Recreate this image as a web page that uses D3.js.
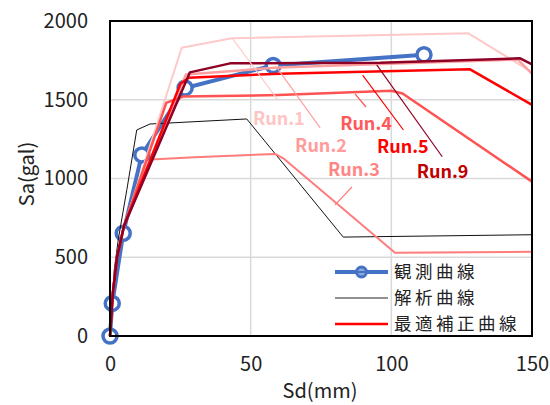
<!DOCTYPE html>
<html><head><meta charset="utf-8">
<script src="https://cdn.jsdelivr.net/npm/d3@7"></script>
<style>body{margin:0;background:#fff}</style>
</head><body>
<svg id="c" width="550" height="405"></svg>
<script>
// ---- data ----
const xTicks = [0, 50, 100, 150];
const yTicks = [0, 500, 1000, 1500, 2000];
const obsSd = [0, 0.8, 4.7, 11.3, 26.7, 58, 111.6];
const obsSa = [0, 207, 652, 1150, 1575, 1718, 1786];
const anaSd = [0, 1.5, 3, 6, 9.5, 14.2, 48.6, 82.9, 150];
const anaSa = [0, 420, 620, 930, 1308, 1346, 1378, 628, 643];
const run1Sd = [0, 1, 2.5, 5, 25.5, 43.3, 127.4, 150];
const run1Sa = [0, 270, 500, 700, 1830, 1890, 1922, 1675];
const run2Sd = [0, 1, 2.5, 5, 27, 60, 145, 150];
const run2Sa = [0, 270, 500, 700, 1660, 1705, 1755, 1665];
const run3Sd = [0, 1, 2.5, 5, 14.5, 30, 58.7, 61.6, 101.3, 150];
const run3Sa = [0, 270, 500, 700, 1120, 1135, 1156, 1128, 529, 535];
const run4Sd = [0, 1, 2.5, 5, 20, 26, 60, 100, 104, 150];
const run4Sa = [0, 270, 500, 700, 1480, 1520, 1530, 1557, 1540, 980];
const run5Sd = [0, 1, 2.5, 5, 25, 28, 60, 128, 150];
const run5Sa = [0, 270, 500, 700, 1600, 1640, 1665, 1693, 1467];
const run9Sd = [0, 1, 2.5, 5, 28.4, 42.7, 96, 145.8, 150];
const run9Sa = [0, 270, 500, 700, 1674, 1731, 1735, 1763, 1724];
const runNames = ["Run.1", "Run.2", "Run.3", "Run.4", "Run.5", "Run.9"];
// label anchor (Sd, Sa) and leader line ends
const labelSd = [50.8, 65.8, 77.5, 81.8, 94.9, 109];
const labelSa = [1340, 1170, 1016, 1308, 1160, 1001];
const leadSd1 = [43.4, 59.4, 86, 87.1, 89.8, 94.8];
const leadSa1 = [1892, 1702, 946, 1537, 1657, 1721];
const leadSd2 = [59.7, 74.7, 80, 91, 104.3, 118.1];
const leadSa2 = [1498, 1321, 832, 1454, 1308, 1138];
const legendLabels = ["観測曲線", "解析曲線", "最適補正曲線"];

// ---- styles ----
const runLineColors = ["#ffc9c9", "#ffa0a0", "#ff7c7c", "#ff5252", "#ff0000", "#8e0025"];
const runLabelColors = ["#ffc4c4", "#ff9b9b", "#ff8585", "#ff5a5a", "#ff0000", "#c00000"];
const runWidths = [2, 2.5, 2, 2.5, 2.5, 2.5];
const font = "'Noto Sans CJK JP', 'Noto Sans', sans-serif";

const svg = d3.select("#c");
const L = 110, R = 532, T = 21, B = 336;
const x = d3.scaleLinear().domain([0, 150]).range([L, R]);
const y = d3.scaleLinear().domain([0, 2000]).range([B, T]);

// grid
svg.append("g").selectAll("line").data(xTicks.slice(1, -1)).join("line")
  .attr("x1", d => x(d)).attr("x2", d => x(d)).attr("y1", T).attr("y2", B)
  .attr("stroke", "#d9d9d9").attr("stroke-width", 1.5);
svg.append("g").selectAll("line").data(yTicks.slice(1, -1)).join("line")
  .attr("y1", d => y(d)).attr("y2", d => y(d)).attr("x1", L).attr("x2", R)
  .attr("stroke", "#d9d9d9").attr("stroke-width", 1.5);

// axes (labels only)
const xa = svg.append("g").attr("transform", `translate(0,${B})`)
  .call(d3.axisBottom(x).tickValues(xTicks).tickFormat(d3.format("d")).tickSize(0).tickPadding(21));
const ya = svg.append("g").attr("transform", `translate(${L},0)`)
  .call(d3.axisLeft(y).tickValues(yTicks).tickFormat(d3.format("d")).tickSize(0).tickPadding(22));
[xa, ya].forEach(a => {
  a.select(".domain").remove();
  a.selectAll("text").attr("font-family", font).attr("font-size", 20).attr("fill", "#222");
});

const line = d3.line().x(d => x(d[0])).y(d => y(d[1]));
const zip = (a, b) => a.map((v, i) => [v, b[i]]);

// observed
svg.append("path").datum(zip(obsSd, obsSa)).attr("d", line)
  .attr("fill", "none").attr("stroke", "#4472c4").attr("stroke-width", 4);
svg.append("g").selectAll("circle").data(zip(obsSd, obsSa)).join("circle")
  .attr("cx", d => x(d[0])).attr("cy", d => y(d[1])).attr("r", 7)
  .attr("fill", "#fff").attr("stroke", "#4472c4").attr("stroke-width", 3.5);

// analysis
svg.append("path").datum(zip(anaSd, anaSa)).attr("d", line)
  .attr("fill", "none").attr("stroke", "#111").attr("stroke-width", 1);

// runs
const runs = [zip(run1Sd, run1Sa), zip(run2Sd, run2Sa), zip(run3Sd, run3Sa),
              zip(run4Sd, run4Sa), zip(run5Sd, run5Sa), zip(run9Sd, run9Sa)];
runs.forEach((r, i) => {
  svg.append("path").datum(r).attr("d", line).attr("fill", "none")
    .attr("stroke", runLineColors[i]).attr("stroke-width", runWidths[i])
    .attr("stroke-linejoin", "round");
});

// leader lines and labels
runNames.forEach((n, i) => {
  svg.append("line")
    .attr("x1", x(leadSd1[i])).attr("y1", y(leadSa1[i]))
    .attr("x2", x(leadSd2[i])).attr("y2", y(leadSa2[i]))
    .attr("stroke", runLineColors[i]).attr("stroke-width", 1.2);
  svg.append("text").attr("x", x(labelSd[i])).attr("y", y(labelSa[i]))
    .attr("font-family", font).attr("font-size", 18).attr("font-weight", "bold")
    .attr("fill", runLabelColors[i]).text(n);
});

// border
svg.append("rect").attr("x", L).attr("y", T).attr("width", R - L).attr("height", B - T)
  .attr("fill", "none").attr("stroke", "#000").attr("stroke-width", 2);

// axis titles
svg.append("text").attr("x", 320).attr("y", 398).attr("text-anchor", "middle")
  .attr("font-family", font).attr("font-size", 20).attr("fill", "#222").text("Sd(mm)");
svg.append("text").attr("transform", "translate(34,174) rotate(-90)").attr("text-anchor", "middle")
  .attr("font-family", font).attr("font-size", 20).attr("fill", "#222").text("Sa(gal)");

// legend
const lg = svg.append("g");
const rows = [272, 298, 324];
const lgColors = ["#4472c4", "#222", "#ff0000"];
const lgW = [4, 1, 2.5];
rows.forEach((ry, i) => {
  lg.append("line").attr("x1", 335).attr("x2", 388).attr("y1", ry).attr("y2", ry)
    .attr("stroke", lgColors[i]).attr("stroke-width", lgW[i]);
  lg.append("text").attr("x", 394).attr("y", ry).attr("dy", "0.36em")
    .attr("font-family", font).attr("font-size", 17.5).attr("letter-spacing", 3.5)
    .attr("fill", "#222").text(legendLabels[i]);
});
lg.append("circle").attr("cx", 361.5).attr("cy", rows[0]).attr("r", 5)
  .attr("fill", "#8fa9dc").attr("stroke", "#4472c4").attr("stroke-width", 3);
lg.append("line").attr("x1", 357).attr("x2", 366).attr("y1", rows[0]).attr("y2", rows[0])
  .attr("stroke", "#4472c4").attr("stroke-width", 2);
</script>
</body></html>
